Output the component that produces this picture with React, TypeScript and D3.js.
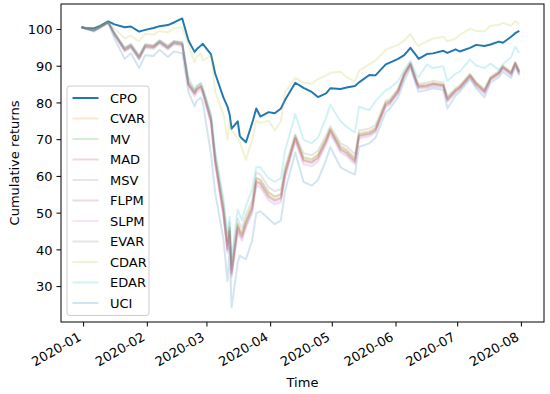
import { useEffect, useRef } from "react";
import * as d3 from "d3";

// trading dates
const dates = [
  "2019-12-31", "2020-01-02", "2020-01-06", "2020-01-09", "2020-01-13", "2020-01-16", "2020-01-21", "2020-01-24", "2020-01-28", "2020-01-31",
  "2020-02-04", "2020-02-07", "2020-02-11", "2020-02-14", "2020-02-18", "2020-02-21", "2020-02-24", "2020-02-25", "2020-02-27", "2020-02-28",
  "2020-03-03", "2020-03-05", "2020-03-09", "2020-03-11", "2020-03-12", "2020-03-13", "2020-03-16", "2020-03-17", "2020-03-18", "2020-03-20",
  "2020-03-23", "2020-03-25", "2020-03-27", "2020-03-31", "2020-04-03", "2020-04-06", "2020-04-08", "2020-04-13", "2020-04-17", "2020-04-21",
  "2020-04-24", "2020-04-28", "2020-04-30", "2020-05-05", "2020-05-08", "2020-05-12", "2020-05-14", "2020-05-19", "2020-05-22", "2020-05-27",
  "2020-05-29", "2020-06-02", "2020-06-05", "2020-06-08", "2020-06-11", "2020-06-12", "2020-06-16", "2020-06-19", "2020-06-24", "2020-06-26",
  "2020-06-30", "2020-07-02", "2020-07-07", "2020-07-10", "2020-07-14", "2020-07-17", "2020-07-21", "2020-07-23", "2020-07-27", "2020-07-29",
  "2020-07-31",
];

const cpo = [
  100.6, 100.4, 100.3, 101.0, 102.2, 101.4, 100.6, 100.8, 99.4, 99.9,
  100.4, 100.9, 101.2, 101.9, 103.0, 97.0, 93.9, 94.6, 95.6, 96.1,
  93.2, 88.0, 81.5, 79.0, 77.0, 73.0, 75.0, 71.0, 70.3, 69.3,
  74.5, 78.5, 76.3, 77.5, 77.2, 78.5, 80.8, 85.5, 84.1, 83.0,
  81.6, 82.6, 84.0, 83.8, 84.2, 84.6, 85.6, 87.6, 87.5, 90.5,
  91.0, 92.0, 93.0, 95.0, 92.8, 92.0, 93.3, 93.5, 94.2, 93.6,
  94.6, 94.0, 95.0, 95.8, 95.5, 95.9, 96.7, 96.4, 98.0, 99.0,
  99.6,
];
const cvar = [
  100.6, 100.3, 99.9, 100.8, 102.0, 99.0, 94.9, 95.8, 92.7, 95.8,
  95.5, 96.9, 95.4, 96.7, 96.3, 85.6, 83.0, 84.0, 84.8, 83.6,
  75.8, 65.2, 51.5, 41.5, 46.2, 35.0, 47.0, 45.8, 44.6, 48.2,
  52.3, 59.6, 59.2, 55.8, 54.6, 55.2, 61.5, 71.0, 65.3, 64.8,
  66.0, 70.4, 73.0, 68.3, 67.3, 65.0, 71.8, 72.3, 73.3, 80.2,
  80.6, 83.6, 88.0, 90.8, 86.0, 84.8, 85.0, 85.5, 85.1, 81.4,
  83.7, 84.5, 87.7, 85.5, 83.5, 86.9, 88.4, 90.0, 88.3, 91.0,
  88.6,
];
const mv = [
  100.6, 100.2, 99.7, 100.6, 101.9, 98.6, 94.2, 95.2, 92.0, 95.2,
  95.0, 96.4, 94.8, 96.2, 95.8, 85.2, 82.8, 83.8, 84.6, 83.3,
  75.5, 65.0, 51.2, 41.0, 46.0, 34.5, 47.0, 45.5, 44.5, 48.0,
  52.0, 59.5, 59.0, 55.5, 54.4, 55.0, 61.5, 71.0, 65.0, 64.5,
  65.8, 70.2, 73.0, 68.0, 67.0, 64.8, 71.5, 72.0, 73.0, 80.0,
  80.4, 83.4, 87.8, 90.6, 85.8, 84.6, 84.8, 85.3, 84.9, 81.2,
  83.5, 84.3, 87.5, 85.3, 83.3, 86.7, 88.2, 89.8, 88.1, 90.8,
  88.4,
];
const mad = [
  100.6, 100.3, 99.8, 100.7, 102.0, 98.8, 94.5, 95.5, 92.3, 95.5,
  95.2, 96.6, 95.0, 96.4, 96.0, 85.0, 82.5, 83.5, 84.3, 83.0,
  75.0, 64.0, 50.0, 40.0, 45.0, 33.5, 46.0, 44.5, 43.5, 47.0,
  51.0, 58.5, 58.0, 54.5, 53.4, 54.0, 60.5, 70.3, 64.3, 63.8,
  65.0, 69.5, 72.4, 67.3, 66.3, 64.0, 71.0, 71.5, 72.5, 79.5,
  80.0, 83.0, 87.5, 90.5, 85.5, 84.3, 84.5, 85.0, 84.6, 80.8,
  83.2, 84.0, 87.3, 85.0, 83.0, 86.5, 88.0, 89.6, 87.9, 90.7,
  88.2,
];
const msv = [
  100.6, 100.2, 99.6, 100.5, 101.8, 98.4, 94.0, 95.0, 91.8, 95.0,
  94.7, 96.1, 94.5, 95.9, 95.5, 84.5, 81.8, 82.8, 83.6, 82.3,
  74.2, 63.2, 49.2, 39.2, 44.0, 32.5, 45.0, 43.5, 42.5, 46.0,
  50.0, 57.5, 57.0, 53.5, 52.4, 53.0, 59.5, 69.5, 63.3, 62.8,
  64.0, 68.7, 71.6, 66.5, 65.5, 63.3, 70.3, 70.9, 72.0, 79.0,
  79.5, 82.6, 87.1, 90.2, 85.1, 83.9, 84.0, 84.5, 84.1, 80.3,
  82.7, 83.6, 86.9, 84.5, 82.5, 86.1, 87.6, 89.2, 87.5, 90.4,
  87.8,
];
const flpm = [
  100.6, 100.3, 99.8, 100.7, 102.0, 98.9, 94.6, 95.6, 92.4, 95.6,
  95.3, 96.7, 95.1, 96.5, 96.1, 85.1, 82.7, 83.7, 84.5, 83.2,
  75.2, 64.3, 50.3, 40.3, 45.3, 33.8, 46.3, 44.8, 43.8, 47.3,
  51.3, 58.8, 58.3, 54.8, 53.7, 54.3, 60.8, 70.5, 64.5, 64.0,
  65.2, 69.7, 72.6, 67.5, 66.5, 64.2, 71.2, 71.7, 72.7, 79.7,
  80.2, 83.2, 87.7, 90.6, 85.7, 84.5, 84.7, 85.2, 84.8, 81.0,
  83.4, 84.2, 87.5, 85.2, 83.2, 86.7, 88.2, 89.8, 88.1, 90.9,
  88.4,
];
const slpm = [
  100.6, 100.3, 99.7, 100.6, 101.9, 98.7, 94.4, 95.4, 92.2, 95.4,
  95.1, 96.5, 94.9, 96.3, 95.9, 84.9, 82.3, 83.3, 84.1, 82.8,
  74.8, 63.8, 49.8, 39.8, 44.8, 33.2, 45.7, 44.2, 43.2, 46.7,
  50.7, 58.2, 57.7, 54.2, 53.1, 53.7, 60.2, 70.1, 64.0, 63.5,
  64.7, 69.3, 72.2, 67.0, 66.0, 63.8, 70.8, 71.3, 72.3, 79.3,
  79.8, 82.8, 87.3, 90.4, 85.3, 84.1, 84.3, 84.8, 84.4, 80.6,
  83.0, 83.8, 87.1, 84.8, 82.8, 86.3, 87.8, 89.4, 87.7, 90.5,
  88.0,
];
const evar = [
  100.6, 100.3, 99.9, 100.8, 102.1, 99.1, 95.0, 96.0, 92.9, 96.0,
  95.7, 97.1, 95.6, 96.9, 96.5, 85.9, 83.5, 84.5, 85.3, 84.0,
  76.5, 66.0, 52.5, 42.5, 47.5, 36.0, 48.5, 47.0, 46.0, 49.5,
  53.5, 61.0, 60.5, 57.0, 56.0, 56.5, 62.5, 71.5, 66.3, 65.8,
  67.0, 71.2, 73.7, 69.0, 68.2, 66.0, 72.5, 73.0, 74.0, 80.6,
  81.0, 84.0, 88.3, 91.0, 86.5, 85.2, 85.5, 86.0, 85.6, 81.8,
  84.0, 84.8, 88.0, 85.8, 83.8, 87.2, 88.6, 90.2, 88.5, 91.2,
  88.8,
];
const cdar = [
  100.6, 100.5, 100.2, 101.0, 102.1, 100.3, 97.6, 98.3, 96.8, 98.8,
  98.6, 99.6, 99.2, 100.3, 100.6, 96.0, 91.0, 92.5, 93.4, 91.5,
  93.0, 83.0, 77.0, 70.0, 75.0, 72.5, 70.5, 69.5, 67.5, 64.5,
  70.0, 75.2, 74.5, 75.2, 72.5, 75.0, 83.0, 86.8, 85.5, 85.2,
  86.5, 87.5, 88.2, 88.5, 87.0, 85.8, 88.8, 90.5, 91.5, 94.5,
  95.0, 95.8, 97.0, 98.8, 96.0, 95.5, 96.8, 97.5, 98.0, 96.8,
  97.5, 98.5, 100.2, 99.6, 99.5, 101.0, 101.2, 101.8, 101.0, 102.3,
  101.5,
];
const edar = [
  100.6, 100.4, 99.9, 100.8, 102.0, 99.0, 95.0, 96.0, 92.8, 96.0,
  95.6, 97.0, 95.4, 96.8, 96.5, 87.0, 83.5, 84.5, 85.5, 84.0,
  77.0, 67.0, 54.0, 44.5, 49.0, 38.0, 51.0, 49.5, 48.0, 52.0,
  56.5, 62.5, 62.5, 59.5, 58.5, 59.5, 67.0, 77.0, 70.0, 69.0,
  70.5, 76.0, 79.5, 75.0, 73.5, 72.0, 79.0, 78.0, 80.5, 83.5,
  84.0, 86.0, 89.0, 91.5, 87.5, 87.0, 90.5, 89.5, 90.0, 86.0,
  88.0, 88.5, 91.8, 90.2, 89.5, 90.7, 89.0, 90.5, 92.5, 95.3,
  93.6,
];
const uci = [
  100.6, 100.2, 99.4, 100.4, 101.7, 97.5, 92.0, 93.5, 89.5, 93.0,
  92.8, 94.5, 92.5, 94.0, 93.5, 83.0, 79.0, 80.5, 81.5, 80.0,
  66.0, 55.5, 43.0, 31.5, 40.5, 24.3, 36.5, 38.5, 38.0, 37.5,
  42.5, 50.0, 50.5, 48.5, 47.0, 48.0, 56.0, 66.5, 58.5, 57.5,
  59.0, 64.5, 68.0, 62.5, 61.5, 60.5, 68.0, 69.0, 70.5, 77.5,
  78.5, 81.5, 86.0, 89.5, 84.5, 83.0, 83.5, 84.0, 83.5, 78.5,
  82.0, 83.0, 86.5, 84.0, 81.5, 85.5, 87.0, 88.5, 86.8, 89.8,
  87.5,
];

const seriesNames = ["CPO", "CVAR", "MV", "MAD", "MSV", "FLPM", "SLPM", "EVAR", "CDAR", "EDAR", "UCI"];
const seriesValues = [cpo, cvar, mv, mad, msv, flpm, slpm, evar, cdar, edar, uci];
const seriesColors = [
  "#1f77b4", "#ff7f0e", "#2ca02c", "#d62728", "#9467bd", "#8c564b",
  "#e377c2", "#7f7f7f", "#bcbd22", "#17becf", "#1f77b4",
];

const yTicks = [30, 40, 50, 60, 70, 80, 90, 100];
const xTickLabels = ["2020-01", "2020-02", "2020-03", "2020-04", "2020-05", "2020-06", "2020-07", "2020-08"];

const width = 550;
const height = 394;
const margin = { top: 4, right: 6, bottom: 72, left: 61 };
const font = "DejaVu Sans, sans-serif";
const fs = 13;

export default function App() {
  const svgRef = useRef<SVGSVGElement>(null);

  useEffect(() => {
    if (!svgRef.current) return;
    const svg = d3.select(svgRef.current);
    svg.selectAll("*").remove();

    const innerW = width - margin.left - margin.right;
    const innerH = height - margin.top - margin.bottom;
    const parse = d3.utcParse("%Y-%m-%d");
    const time = dates.map((d) => parse(d) as Date);

    // matplotlib-like padding around the data range
    const x = d3
      .scaleUtc()
      .domain([d3.utcDay.offset(time[0], -10), d3.utcDay.offset(time[time.length - 1], 12)])
      .range([0, innerW]);

    const all = seriesValues.flat();
    const lo = d3.min(all) as number;
    const hi = d3.max(all) as number;
    const pad = (hi - lo) * 0.05;
    const y = d3.scaleLinear().domain([lo - pad, hi + pad]).range([innerH, 0]);

    svg.append("rect").attr("width", width).attr("height", height).attr("fill", "#fff");

    const g = svg.append("g").attr("transform", `translate(${margin.left},${margin.top})`);

    const line = d3
      .line<number>()
      .x((_, i) => x(time[i]))
      .y((v) => y(v));

    seriesValues.forEach((vals, i) => {
      g.append("path")
        .datum(vals)
        .attr("d", line)
        .attr("fill", "none")
        .attr("stroke", seriesColors[i])
        .attr("stroke-opacity", i === 0 ? 1 : 0.2)
        .attr("stroke-width", 1.95)
        .attr("stroke-linejoin", "round");
    });

    // frame
    g.append("rect")
      .attr("width", innerW)
      .attr("height", innerH)
      .attr("fill", "none")
      .attr("stroke", "#000")
      .attr("stroke-width", 1);

    // y axis
    const yAxis = g.append("g");
    yTicks.forEach((t) => {
      const ty = y(t);
      yAxis.append("line").attr("x1", 0).attr("x2", -4.5).attr("y1", ty).attr("y2", ty).attr("stroke", "#000");
      yAxis
        .append("text")
        .attr("x", -8.5)
        .attr("y", ty)
        .attr("dy", "0.36em")
        .attr("text-anchor", "end")
        .attr("font-family", font)
        .attr("font-size", fs)
        .text(t);
    });

    // x axis, monthly ticks with rotated labels
    const months = d3.utcMonth.range(new Date(Date.UTC(2020, 0, 1)), new Date(Date.UTC(2020, 7, 2)));
    const xAxis = g.append("g").attr("transform", `translate(0,${innerH})`);
    months.forEach((m, i) => {
      const tx = x(m);
      xAxis.append("line").attr("x1", tx).attr("x2", tx).attr("y1", 0).attr("y2", 4.5).attr("stroke", "#000");
      xAxis
        .append("text")
        .attr("transform", `translate(${tx - 1.5},${17.5}) rotate(-30)`)
        .attr("text-anchor", "end")
        .attr("font-family", font)
        .attr("font-size", fs)
        .text(xTickLabels[i]);
    });

    g.append("text")
      .attr("x", innerW / 2)
      .attr("y", innerH + 65)
      .attr("text-anchor", "middle")
      .attr("font-family", font)
      .attr("font-size", fs)
      .text("Time");

    g.append("text")
      .attr("transform", `translate(${-42},${innerH / 2}) rotate(-90)`)
      .attr("text-anchor", "middle")
      .attr("font-family", font)
      .attr("font-size", fs)
      .text("Cumulative returns");

    // legend, lower left
    const rowH = 20.5;
    const legH = rowH * seriesNames.length + 4;
    const legW = 82;
    const leg = g.append("g").attr("transform", `translate(6,${innerH - 6.5 - legH})`);
    leg
      .append("rect")
      .attr("width", legW)
      .attr("height", legH)
      .attr("rx", 3)
      .attr("fill", "#fff")
      .attr("fill-opacity", 0.8)
      .attr("stroke", "#cccccc")
      .attr("stroke-width", 1);
    seriesNames.forEach((name, i) => {
      const cy = 12 + i * rowH;
      leg
        .append("line")
        .attr("x1", 5.5)
        .attr("x2", 31.5)
        .attr("y1", cy)
        .attr("y2", cy)
        .attr("stroke", seriesColors[i])
        .attr("stroke-opacity", i === 0 ? 1 : 0.2)
        .attr("stroke-width", 1.95);
      leg
        .append("text")
        .attr("x", 43)
        .attr("y", cy)
        .attr("dy", "0.36em")
        .attr("font-family", font)
        .attr("font-size", fs)
        .text(name);
    });
  }, []);

  return (
    <svg
      ref={svgRef}
      width={width}
      height={height}
      style={{ position: "absolute", left: 0, top: 0 }}
    />
  );
}
